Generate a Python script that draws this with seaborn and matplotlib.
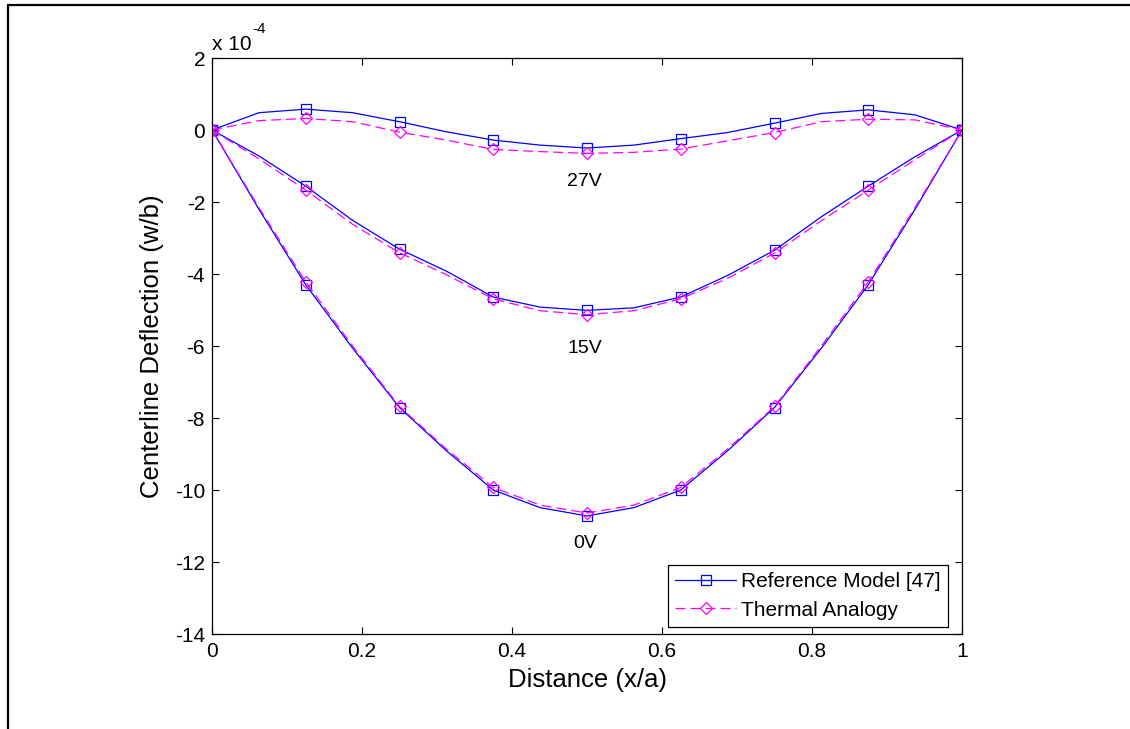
import numpy as np
import pandas as pd
import matplotlib
matplotlib.use("Agg")
import matplotlib.pyplot as plt
from matplotlib.lines import Line2D
import seaborn as sns

# ---- data (deflection in units of 1e-4) ----
x_pos = [0, 0.0625, 0.125, 0.1875, 0.25, 0.3125, 0.375, 0.4375, 0.5,
         0.5625, 0.625, 0.6875, 0.75, 0.8125, 0.875, 0.9375, 1.0]

ref_27V = [0, 0.48, 0.58, 0.48, 0.23, -0.05, -0.28, -0.42, -0.50,
           -0.42, -0.24, -0.07, 0.19, 0.46, 0.56, 0.42, 0]
thermal_27V = [0, 0.26, 0.32, 0.23, -0.06, -0.28, -0.54, -0.60, -0.65,
               -0.62, -0.53, -0.30, -0.07, 0.23, 0.30, 0.28, 0]

ref_15V = [0, -0.72, -1.56, -2.51, -3.31, -3.92, -4.64, -4.92, -5.01,
           -4.94, -4.64, -4.04, -3.34, -2.41, -1.56, -0.74, 0]
thermal_15V = [0, -0.80, -1.67, -2.62, -3.41, -4.02, -4.69, -5.02, -5.13,
               -5.02, -4.69, -4.12, -3.42, -2.52, -1.67, -0.82, 0]

ref_0V = [0, -2.20, -4.30, -6.06, -7.71, -8.91, -10.00, -10.49, -10.72,
          -10.49, -10.00, -8.91, -7.71, -6.06, -4.30, -2.20, 0]
thermal_0V = [0, -2.15, -4.22, -6.00, -7.68, -8.86, -9.93, -10.42, -10.64,
              -10.42, -9.93, -8.86, -7.68, -6.00, -4.22, -2.15, 0]

voltage_labels = ["27V", "15V", "0V"]
label_y = [-1.44, -6.07, -11.5]
label_x = 0.497

series_names = ["Reference Model [47]", "Thermal Analogy"]
x_ticks = [0, 0.2, 0.4, 0.6, 0.8, 1]
y_ticks = [-14, -12, -10, -8, -6, -4, -2, 0, 2]

# ---- style ----
sns.set_theme(style="white")
plt.rcParams["font.family"] = ["Liberation Sans", "DejaVu Sans"]
plt.rcParams["text.color"] = "black"
plt.rcParams["axes.labelcolor"] = "black"

fig = plt.figure(figsize=(11.3, 7.29), dpi=100)
ax = fig.add_axes([212 / 1130, 1 - 634 / 729, 750 / 1130, 576 / 729])

blue = "#0000FF"
magenta = "#FF00FF"
dash = (0, (8, 4))

ref_curves = [ref_27V, ref_15V, ref_0V]
th_curves = [thermal_27V, thermal_15V, thermal_0V]

for ys in ref_curves:
    sns.lineplot(x=x_pos, y=ys, ax=ax, color=blue, lw=0.9, marker="s",
                 markevery=2, markersize=7.4, markerfacecolor="none",
                 markeredgecolor=blue, markeredgewidth=0.9,
                 estimator=None, sort=False, legend=False)
for ys in th_curves:
    sns.lineplot(x=x_pos, y=ys, ax=ax, color=magenta, lw=0.9, linestyle=dash,
                 marker="D", markevery=2, markersize=6.0,
                 markerfacecolor="none", markeredgecolor=magenta,
                 markeredgewidth=0.9, estimator=None, sort=False, legend=False)

for lab, ly in zip(voltage_labels, label_y):
    ax.text(label_x, ly, lab, ha="center", va="center", fontsize=14,
            color="black")

ax.set_xlim(0, 1)
ax.set_ylim(-14, 2)
ax.set_xticks(x_ticks)
ax.set_xticklabels(["0", "0.2", "0.4", "0.6", "0.8", "1"])
ax.set_yticks(y_ticks)
ax.set_yticklabels([str(v) for v in y_ticks])

ax.tick_params(axis="both", which="both", direction="in", length=5,
               width=0.8, color="black", labelsize=15, labelcolor="black",
               top=True, right=True, bottom=True, left=True)
ax.tick_params(axis="x", pad=6)
ax.tick_params(axis="y", pad=5)
for sp in ax.spines.values():
    sp.set_visible(True)
    sp.set_color("black")
    sp.set_linewidth(0.9)
ax.set_facecolor("white")
ax.grid(False)

ax.set_xlabel("Distance (x/a)", fontsize=18.5, labelpad=5, color="black")
ax.set_ylabel("Centerline Deflection (w/b)", fontsize=18.5, labelpad=8,
              color="black")

# exponent text
fig.text(212 / 1130, 1 - 50 / 729, "x 10", fontsize=15, ha="left",
         va="baseline", color="black")
fig.text(252 / 1130, 1 - 33 / 729, "-4", fontsize=11, ha="left",
         va="baseline", color="black")

handles = [
    Line2D([], [], color=blue, lw=0.9, marker="s", markersize=7.4,
           markerfacecolor="none", markeredgecolor=blue, markeredgewidth=0.9),
    Line2D([], [], color=magenta, lw=0.9, linestyle=dash, marker="D",
           markersize=6.0, markerfacecolor="none", markeredgecolor=magenta,
           markeredgewidth=0.9),
]
leg = ax.legend(handles, series_names, loc="lower right",
                bbox_to_anchor=(0.9813, 0.0122), borderaxespad=0,
                fontsize=15, frameon=True, fancybox=False, framealpha=1,
                edgecolor="black", handlelength=2.9, handletextpad=0.25,
                borderpad=0.35, labelspacing=0.45, labelcolor="black")
leg.get_frame().set_linewidth(0.9)

# outer frame (left and top edges)
fig.add_artist(Line2D([8 / 1130, 8 / 1130], [0, 1 - 5 / 729],
                      transform=fig.transFigure, color="black", lw=1.6))
fig.add_artist(Line2D([8 / 1130, 1], [1 - 5 / 729, 1 - 5 / 729],
                      transform=fig.transFigure, color="black", lw=1.6))

fig.savefig("out.png", dpi=100, facecolor="white")
